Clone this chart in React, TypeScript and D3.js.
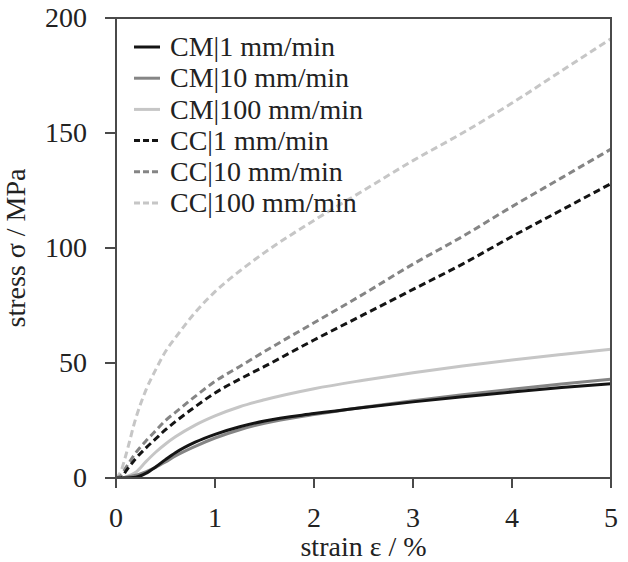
import React from "react";
import * as d3 from "d3";

const strains = [0, 0.05, 0.1, 0.2, 0.3, 0.4, 0.5, 0.6, 0.8, 1, 1.25, 1.5, 2, 2.5, 3, 3.5, 4, 4.5, 5];

const cm1 = [0, 0, 0, 0.3, 2, 4.8, 8, 11, 15.6, 19, 22.3, 24.8, 28, 30.7, 33.1, 35.3, 37.4, 39.3, 41];
const cm10 = [0, 0, 0.3, 1.2, 2.7, 4.6, 7, 9.6, 13.8, 17.4, 21, 23.8, 27.6, 30.8, 33.6, 36.2, 38.6, 40.9, 43];
const cm100 = [0, 0, 0.5, 2.5, 7, 11.2, 14.8, 17.9, 23, 27, 31, 34, 38.8, 42.5, 45.8, 48.7, 51.3, 53.7, 56];
const cc1 = [0, 0, 3, 8.5, 13, 17, 21, 24.5, 31, 37, 43, 48.5, 60, 71, 82, 93, 105, 116.5, 128];
const cc10 = [0, 1, 4.5, 11, 16, 20.5, 25, 28.5, 35.5, 42, 48.5, 55, 67.5, 80, 93, 105, 118, 130.5, 143];
const cc100 = [0, 3, 10, 26, 38, 47, 55, 61, 72, 81, 90, 98, 112, 125, 138, 150, 163, 177, 191];

const seriesNames = ["CM|1 mm/min", "CM|10 mm/min", "CM|100 mm/min", "CC|1 mm/min", "CC|10 mm/min", "CC|100 mm/min"];
const seriesValues = [cm1, cm10, cm100, cc1, cc10, cc100];
const seriesColors = ["#141414", "#858585", "#c6c6c6", "#141414", "#858585", "#c6c6c6"];
const seriesDashed = [false, false, false, true, true, true];

const xTicks = [0, 1, 2, 3, 4, 5];
const yTicks = [0, 50, 100, 150, 200];

const FONT = "'Liberation Serif', 'DejaVu Serif', serif";

export default function App() {
  const W = 628, H = 562;
  const left = 116, right = 611, top = 18, bottom = 478;
  const x = d3.scaleLinear().domain([0, 5]).range([left, right]);
  const y = d3.scaleLinear().domain([0, 200]).range([bottom, top]);
  const axisColor = "#4a4a4a";
  const textStyle = { fontFamily: FONT, fontSize: "28px" } as React.CSSProperties;

  const drawOrder = [2, 1, 0, 5, 4, 3];

  return (
    <svg width={W} height={H} style={{ position: "absolute", left: 0, top: 0, background: "#fff" }}>
      <defs>
        <clipPath id="plot">
          <rect x={left} y={top} width={right - left} height={bottom - top} />
        </clipPath>
      </defs>
      <g clipPath="url(#plot)">
        {drawOrder.map((i) => {
          const pts: [number, number][] = strains.map((s, k) => [s, seriesValues[i][k]]);
          const line = d3
            .line<[number, number]>()
            .x((d) => x(d[0]))
            .y((d) => y(d[1]))
            .curve(d3.curveMonotoneX);
          return (
            <path
              key={i}
              d={line(pts) || ""}
              fill="none"
              stroke={seriesColors[i]}
              strokeWidth={3}
              strokeDasharray={seriesDashed[i] ? "7 4" : undefined}
            />
          );
        })}
      </g>
      <rect x={left} y={top} width={right - left} height={bottom - top} fill="none" stroke={axisColor} strokeWidth={2} />
      {xTicks.map((t) => (
        <g key={"x" + t}>
          <line x1={x(t)} x2={x(t)} y1={bottom} y2={bottom + 10} stroke={axisColor} strokeWidth={2} />
          <text x={x(t)} y={527} textAnchor="middle" style={textStyle} fill="#222">
            {t}
          </text>
        </g>
      ))}
      {yTicks.map((t) => (
        <g key={"y" + t}>
          <line x1={left - 11} x2={left} y1={y(t)} y2={y(t)} stroke={axisColor} strokeWidth={2} />
          <text x={87} y={y(t)} dy="0.33em" textAnchor="end" style={textStyle} fill="#222">
            {t}
          </text>
        </g>
      ))}
      <text x={(left + right) / 2} y={556} textAnchor="middle" style={textStyle} fill="#222">
        strain ε / %
      </text>
      <text
        transform={`translate(25, ${(top + bottom) / 2}) rotate(-90)`}
        textAnchor="middle"
        style={textStyle}
        fill="#222"
      >
        stress σ / MPa
      </text>
      {seriesNames.map((name, i) => {
        const cy = 47 + i * 31.2;
        return (
          <g key={name}>
            <line
              x1={134}
              x2={160}
              y1={cy}
              y2={cy}
              stroke={seriesColors[i]}
              strokeWidth={3}
              strokeDasharray={seriesDashed[i] ? "6 3" : undefined}
            />
            <text x={170} y={cy} dy="0.33em" style={textStyle} fill="#222">
              {name}
            </text>
          </g>
        );
      })}
    </svg>
  );
}
